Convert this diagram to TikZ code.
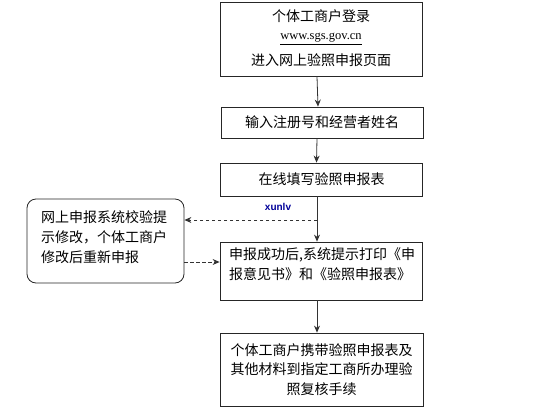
\documentclass[tikz,border=0pt]{standalone}
\usepackage{fontspec}
\setmainfont{Noto Sans CJK SC}
\newfontfamily\urlfont{Liberation Serif}
\newfontfamily\wmfont{Liberation Sans}
\usetikzlibrary{arrows.meta}
\begin{document}
\begin{tikzpicture}[x=1pt,y=-1pt,
  box/.style={draw=black!85,line width=0.8pt,minimum width=202pt,inner sep=0pt,align=center,font=\fontsize{14}{19.5}\selectfont},
  txt/.style={inner sep=0pt,font=\fontsize{14}{20}\selectfont},
  arr/.style={draw=black!80,line width=0.8pt,-{Stealth[length=7pt,width=6pt]}},
  darr/.style={draw=black!80,line width=0.8pt,dashed,dash pattern=on 3.5pt off 2.5pt,-{Stealth[length=7pt,width=6pt]}}]
\useasboundingbox (0,0) rectangle (559,418);
\node[box,minimum height=74pt] (b1) at (321,39) {};
\node[txt] (t1a) at (321,16) {个体工商户登录};
\node[txt,font=\urlfont\fontsize{12.5}{14}\selectfont] (t1b) at (321,39) {\underline{www.sgs.gov.cn}};
\node[txt] (t1c) at (321,60) {进入网上验照申报页面};
\node[box,minimum height=31pt] (b2) at (322,122.5) {输入注册号和经营者姓名};
\node[box,minimum height=33pt] (b3) at (321.5,179.5) {在线填写验照申报表};
\node[box,minimum height=58pt] (b4) at (321,271) {};
\node[txt,anchor=north west,align=left] (t4) at (229,247) {申报成功后,系统提示打印《申\\报意见书》和《验照申报表》};
\node[box,minimum height=73pt,minimum width=203pt] (b5) at (321.5,369.5) {个体工商户携带验照申报表及\\其他材料到指定工商所办理验\\照复核手续};
\node[draw=black!85,line width=0.8pt,rounded corners=9pt,minimum width=157pt,minimum height=84pt] (L) at (105.5,241) {};
\node[txt,anchor=north west,align=left] (tL) at (41,210) {网上申报系统校验提\\示修改，个体工商户\\修改后重新申报};
\node[inner sep=0pt,text=blue!60!black,font=\wmfont\bfseries\fontsize{10}{12}\selectfont] (wm) at (278,207) {xunlv};
\draw[arr] ([xshift=-4pt]b1.south) -- ([xshift=-4pt]b2.north);
\draw[arr] ([xshift=-5pt]b2.south) -- ([xshift=-5pt]b3.north);
\draw[arr] ([xshift=-4.5pt]b3.south) -- ([xshift=-4pt]b4.north);
\draw[arr] ([xshift=-4pt]b4.south) -- ([xshift=-4.5pt]b5.north);
\coordinate (m) at (317,220);
\draw[darr] (m) -- (m -| L.east);
\coordinate (n) at (184,262);
\draw[darr] (n) -- (n -| b4.west);
\end{tikzpicture}
\end{document}
